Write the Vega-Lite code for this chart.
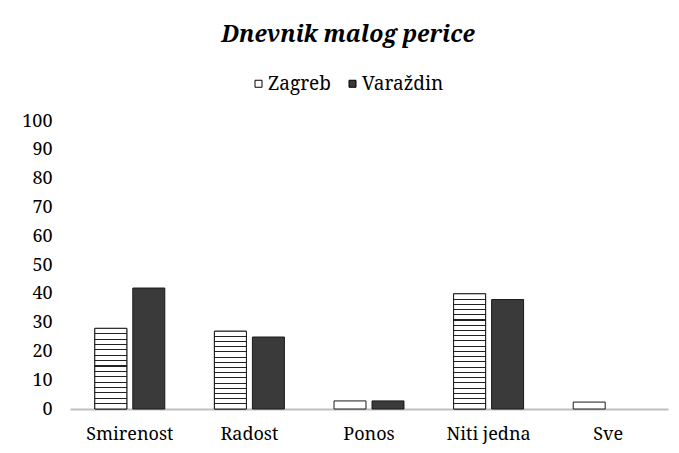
{
  "$schema": "https://vega.github.io/schema/vega-lite/v6.json",
  "width": 598,
  "height": 288,
  "autosize": {"type": "none"},
  "padding": {"left": 70, "top": 121, "right": 11, "bottom": 44},
  "background": "white",
  "title": {
    "text": "Dnevnik malog perice",
    "font": "Noto Serif",
    "fontSize": 23,
    "fontWeight": "bold",
    "fontStyle": "italic",
    "color": "black",
    "anchor": "middle",
    "frame": "group",
    "baseline": "alphabetic",
    "offset": 9,
    "dx": -21
  },
  "data": {
    "values": [
      {"Kategorija": "Smirenost", "Grad": "Zagreb", "Vrijednost": 28},
      {"Kategorija": "Smirenost", "Grad": "Varaždin", "Vrijednost": 42},
      {"Kategorija": "Radost", "Grad": "Zagreb", "Vrijednost": 27},
      {"Kategorija": "Radost", "Grad": "Varaždin", "Vrijednost": 25},
      {"Kategorija": "Ponos", "Grad": "Zagreb", "Vrijednost": 2.8},
      {"Kategorija": "Ponos", "Grad": "Varaždin", "Vrijednost": 2.8},
      {"Kategorija": "Niti jedna", "Grad": "Zagreb", "Vrijednost": 40},
      {"Kategorija": "Niti jedna", "Grad": "Varaždin", "Vrijednost": 38},
      {"Kategorija": "Sve", "Grad": "Zagreb", "Vrijednost": 2.4},
      {"Kategorija": "Sve", "Grad": "Varaždin", "Vrijednost": 0}
    ]
  },
  "encoding": {
    "x": {
      "field": "Kategorija",
      "type": "nominal",
      "sort": null,
      "scale": {"domain": ["Smirenost", "Radost", "Ponos", "Niti jedna", "Sve"], "paddingInner": 0.415, "paddingOuter": 0.2075},
      "axis": {
        "title": null,
        "labelAngle": 0,
        "labelFont": "Noto Serif",
        "labelFontSize": 18,
        "labelColor": "black",
        "labelPadding": 16,
        "ticks": false,
        "domainColor": "#bfbfbf",
        "domainWidth": 2
      }
    },
    "xOffset": {
      "field": "Grad",
      "type": "nominal",
      "scale": {"domain": ["Zagreb", "Varaždin"], "paddingInner": 0.158, "paddingOuter": 0}
    },
    "y": {
      "field": "Vrijednost",
      "type": "quantitative",
      "scale": {"domain": [0, 100], "nice": false},
      "axis": {
        "title": null,
        "values": [0, 10, 20, 30, 40, 50, 60, 70, 80, 90, 100],
        "labelFont": "Noto Serif",
        "labelFontSize": 18,
        "labelColor": "black",
        "labelPadding": 18,
        "ticks": false,
        "domain": false,
        "grid": false
      }
    }
  },
  "layer": [
    {
      "transform": [{"filter": "datum.Vrijednost > 0"}],
      "mark": {"type": "bar", "stroke": "#1a1a1a", "strokeWidth": 1},
      "encoding": {
        "fill": {
          "field": "Grad",
          "type": "nominal",
          "scale": {"domain": ["Zagreb", "Varaždin"], "range": ["white", "#3a3a3a"]},
          "legend": {
            "title": null,
            "orient": "none",
            "legendX": 179,
            "legendY": -47,
            "direction": "horizontal",
            "symbolType": "square",
            "symbolSize": 49,
            "symbolStrokeColor": "black",
            "symbolStrokeWidth": 1,
            "labelFont": "Noto Serif",
            "labelFontSize": 19,
            "labelColor": "black",
            "labelOffset": 0,
            "columnPadding": 12
          }
        }
      }
    },
    {
      "transform": [
        {"filter": "datum.Grad === 'Zagreb' && datum.Vrijednost > 10 && datum.Vrijednost < 35"}
      ],
      "mark": {
        "type": "bar",
        "stroke": "#1a1a1a",
        "strokeWidth": 1,
        "fill": {
          "gradient": "linear",
          "x1": 0, "y1": 0, "x2": 0, "y2": 1,
          "stops": [
            {"offset": 0, "color": "white"},
            {"offset": 0.0602, "color": "white"}, {"offset": 0.0602, "color": "#222"}, {"offset": 0.0732, "color": "#222"}, {"offset": 0.0732, "color": "white"},
            {"offset": 0.1268, "color": "white"}, {"offset": 0.1268, "color": "#222"}, {"offset": 0.1398, "color": "#222"}, {"offset": 0.1398, "color": "white"},
            {"offset": 0.1935, "color": "white"}, {"offset": 0.1935, "color": "#222"}, {"offset": 0.2065, "color": "#222"}, {"offset": 0.2065, "color": "white"},
            {"offset": 0.2602, "color": "white"}, {"offset": 0.2602, "color": "#222"}, {"offset": 0.2732, "color": "#222"}, {"offset": 0.2732, "color": "white"},
            {"offset": 0.3268, "color": "white"}, {"offset": 0.3268, "color": "#222"}, {"offset": 0.3398, "color": "#222"}, {"offset": 0.3398, "color": "white"},
            {"offset": 0.3935, "color": "white"}, {"offset": 0.3935, "color": "#222"}, {"offset": 0.4065, "color": "#222"}, {"offset": 0.4065, "color": "white"},
            {"offset": 0.4602, "color": "white"}, {"offset": 0.4602, "color": "#222"}, {"offset": 0.4732, "color": "#222"}, {"offset": 0.4732, "color": "white"},
            {"offset": 0.5268, "color": "white"}, {"offset": 0.5268, "color": "#222"}, {"offset": 0.5398, "color": "#222"}, {"offset": 0.5398, "color": "white"},
            {"offset": 0.5935, "color": "white"}, {"offset": 0.5935, "color": "#222"}, {"offset": 0.6065, "color": "#222"}, {"offset": 0.6065, "color": "white"},
            {"offset": 0.6602, "color": "white"}, {"offset": 0.6602, "color": "#222"}, {"offset": 0.6732, "color": "#222"}, {"offset": 0.6732, "color": "white"},
            {"offset": 0.7268, "color": "white"}, {"offset": 0.7268, "color": "#222"}, {"offset": 0.7398, "color": "#222"}, {"offset": 0.7398, "color": "white"},
            {"offset": 0.7935, "color": "white"}, {"offset": 0.7935, "color": "#222"}, {"offset": 0.8065, "color": "#222"}, {"offset": 0.8065, "color": "white"},
            {"offset": 0.8602, "color": "white"}, {"offset": 0.8602, "color": "#222"}, {"offset": 0.8732, "color": "#222"}, {"offset": 0.8732, "color": "white"},
            {"offset": 0.9268, "color": "white"}, {"offset": 0.9268, "color": "#222"}, {"offset": 0.9398, "color": "#222"}, {"offset": 0.9398, "color": "white"},
            {"offset": 1, "color": "white"}
          ]
        }
      }
    },
    {
      "transform": [
        {"filter": "datum.Grad === 'Zagreb' && datum.Vrijednost >= 35"}
      ],
      "mark": {
        "type": "bar",
        "stroke": "#1a1a1a",
        "strokeWidth": 1,
        "fill": {
          "gradient": "linear",
          "x1": 0, "y1": 0, "x2": 0, "y2": 1,
          "stops": [
            {"offset": 0, "color": "white"},
            {"offset": 0.0410, "color": "white"}, {"offset": 0.0410, "color": "#222"}, {"offset": 0.0500, "color": "#222"}, {"offset": 0.0500, "color": "white"},
            {"offset": 0.0864, "color": "white"}, {"offset": 0.0864, "color": "#222"}, {"offset": 0.0954, "color": "#222"}, {"offset": 0.0954, "color": "white"},
            {"offset": 0.1319, "color": "white"}, {"offset": 0.1319, "color": "#222"}, {"offset": 0.1409, "color": "#222"}, {"offset": 0.1409, "color": "white"},
            {"offset": 0.1773, "color": "white"}, {"offset": 0.1773, "color": "#222"}, {"offset": 0.1863, "color": "#222"}, {"offset": 0.1863, "color": "white"},
            {"offset": 0.2228, "color": "white"}, {"offset": 0.2228, "color": "#222"}, {"offset": 0.2318, "color": "#222"}, {"offset": 0.2318, "color": "white"},
            {"offset": 0.2682, "color": "white"}, {"offset": 0.2682, "color": "#222"}, {"offset": 0.2772, "color": "#222"}, {"offset": 0.2772, "color": "white"},
            {"offset": 0.3137, "color": "white"}, {"offset": 0.3137, "color": "#222"}, {"offset": 0.3227, "color": "#222"}, {"offset": 0.3227, "color": "white"},
            {"offset": 0.3591, "color": "white"}, {"offset": 0.3591, "color": "#222"}, {"offset": 0.3681, "color": "#222"}, {"offset": 0.3681, "color": "white"},
            {"offset": 0.4046, "color": "white"}, {"offset": 0.4046, "color": "#222"}, {"offset": 0.4136, "color": "#222"}, {"offset": 0.4136, "color": "white"},
            {"offset": 0.4500, "color": "white"}, {"offset": 0.4500, "color": "#222"}, {"offset": 0.4590, "color": "#222"}, {"offset": 0.4590, "color": "white"},
            {"offset": 0.4955, "color": "white"}, {"offset": 0.4955, "color": "#222"}, {"offset": 0.5045, "color": "#222"}, {"offset": 0.5045, "color": "white"},
            {"offset": 0.5410, "color": "white"}, {"offset": 0.5410, "color": "#222"}, {"offset": 0.5500, "color": "#222"}, {"offset": 0.5500, "color": "white"},
            {"offset": 0.5864, "color": "white"}, {"offset": 0.5864, "color": "#222"}, {"offset": 0.5954, "color": "#222"}, {"offset": 0.5954, "color": "white"},
            {"offset": 0.6319, "color": "white"}, {"offset": 0.6319, "color": "#222"}, {"offset": 0.6409, "color": "#222"}, {"offset": 0.6409, "color": "white"},
            {"offset": 0.6773, "color": "white"}, {"offset": 0.6773, "color": "#222"}, {"offset": 0.6863, "color": "#222"}, {"offset": 0.6863, "color": "white"},
            {"offset": 0.7228, "color": "white"}, {"offset": 0.7228, "color": "#222"}, {"offset": 0.7318, "color": "#222"}, {"offset": 0.7318, "color": "white"},
            {"offset": 0.7682, "color": "white"}, {"offset": 0.7682, "color": "#222"}, {"offset": 0.7772, "color": "#222"}, {"offset": 0.7772, "color": "white"},
            {"offset": 0.8137, "color": "white"}, {"offset": 0.8137, "color": "#222"}, {"offset": 0.8227, "color": "#222"}, {"offset": 0.8227, "color": "white"},
            {"offset": 0.8591, "color": "white"}, {"offset": 0.8591, "color": "#222"}, {"offset": 0.8681, "color": "#222"}, {"offset": 0.8681, "color": "white"},
            {"offset": 0.9046, "color": "white"}, {"offset": 0.9046, "color": "#222"}, {"offset": 0.9136, "color": "#222"}, {"offset": 0.9136, "color": "white"},
            {"offset": 0.9500, "color": "white"}, {"offset": 0.9500, "color": "#222"}, {"offset": 0.9590, "color": "#222"}, {"offset": 0.9590, "color": "white"},
            {"offset": 1, "color": "white"}
          ]
        }
      }
    }
  ],
  "config": {
    "view": {"stroke": null},
    "font": "Noto Serif"
  }
}
